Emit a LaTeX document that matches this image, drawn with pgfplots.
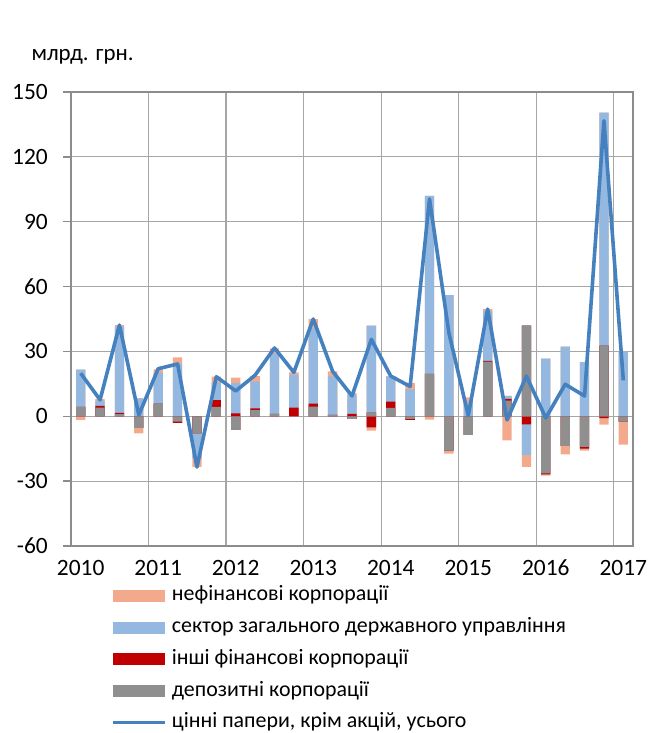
\documentclass[border=0pt]{standalone}
\usepackage{pgfplots}
\pgfplotsset{compat=1.18}
\usepackage{pgfplotstable}
\usepackage{fontspec}
\setmainfont{Carlito}
\definecolor{cNF}{HTML}{F3AA8C}
\definecolor{cGOV}{HTML}{95B8E0}
\definecolor{cOTH}{HTML}{C00000}
\definecolor{cDEP}{HTML}{8F8F8F}
\definecolor{cLINE}{HTML}{4681BF}
\definecolor{cGRID}{HTML}{A6A6A6}
\definecolor{cAXIS}{HTML}{8C8C8C}

\pgfplotstableread{
x dep oth gov nf tot
0 4.3 0 17.3 -1.7 19.9
1 4.0 0.8 2.5 0.6 7.6
2 1.0 0.6 39.8 0.8 42.2
3 -5.4 0 8.3 -2.5 0.6
4 5.9 0 14.3 1.5 22.0
5 -2.5 -0.5 24.1 3.2 24.2
6 -7.9 0 -11.6 -3.9 -23.5
7 4.3 3.2 8.2 2.6 18.3
8 -6.3 1.4 13.9 2.6 11.7
9 2.9 0.8 12.3 2.6 19.0
10 1.1 0 28.0 2.3 31.6
11 0 4.0 15.1 1.2 20.3
12 4.5 1.4 34.8 4.3 45.0
13 0.6 0 17.9 2.3 20.8
14 -1.2 1.1 8.8 0.8 9.4
15 1.7 -5.1 40.2 -1.5 35.6
16 3.9 2.9 11.7 0 18.6
17 -1.2 -0.5 12.5 2.9 13.8
18 19.6 0 82.3 -1.5 100.5
19 -15.9 0 56.1 -1.4 38.6
20 -8.6 0 6.5 2.3 0.3
21 25.3 0.3 23.1 0.9 49.6
22 7.2 0.8 1.4 -11.1 -1.7
23 41.9 -3.7 -14.3 -5.4 18.6
24 -26.4 -0.5 26.7 -0.6 -0.8
25 -13.7 0 32.2 -3.9 14.8
26 -14.2 -0.8 25.1 -0.9 9.4
27 32.7 -0.8 107.8 -3.1 136.7
28 -2.5 0 29.9 -10.6 16.6
}\data

\begin{document}
\begin{tikzpicture}[font=\fontsize{22}{26}\selectfont]
\useasboundingbox (-71bp,-187bp) rectangle (591bp,546bp);
\begin{axis}[at={(0,0)}, anchor=south west, scale only axis,
  width=562bp, height=454bp,
  xmin=-0.5, xmax=28.5, ymin=-60, ymax=150,
  xtick={0,4,...,28}, xticklabels={2010,2011,2012,2013,2014,2015,2016,2017},
  minor xtick={3.5,7.5,...,27.5},
  ytick={-60,-30,...,150},
  ymajorgrids, xminorgrids,
  tick align=outside, major tick length=8bp, minor tick length=0pt,
  xtick style={draw=none},
  ytick style={cAXIS, line width=1.4bp},
  ytick pos=left, xtick pos=bottom,
  grid style={cGRID, line width=1.1bp},
  minor grid style={cGRID, line width=1.1bp},
  axis line style={cAXIS, line width=1.6bp},
  /pgf/number format/assume math mode=true,
  ticklabel style={font=\fontsize{23.5}{27}\selectfont},
  xticklabel style={anchor=north, text height=16bp, text depth=0pt, inner sep=0pt, yshift=-5bp},
  yticklabel style={anchor=east, inner sep=0pt, xshift=-15bp},
  legend cell align=left,
  legend style={at={(0.072,-0.087)}, anchor=north west, draw=none, fill=none,
    inner sep=0pt, row sep=11.8bp,
    nodes={inner sep=0pt, text height=15bp, text depth=5bp},
    /tikz/every even column/.append style={column sep=10bp}},
]
% non-financial
\addplot[ybar, bar width=0.48, bar shift=0pt, fill=cNF, draw=none,
  legend image code/.code={\fill[cNF] (0bp,-6bp) rectangle (52bp,6bp); \path (57bp,0bp);}]
  table[x=x, y expr={max(\thisrow{dep},0)+max(\thisrow{oth},0)+max(\thisrow{gov},0)+max(\thisrow{nf},0)}] {\data};
\addlegendentry{нефінансові корпорації}
\addplot[ybar, bar width=0.48, bar shift=0pt, fill=cNF, draw=none, forget plot]
  table[x=x, y expr={min(\thisrow{dep},0)+min(\thisrow{oth},0)+min(\thisrow{gov},0)+min(\thisrow{nf},0)}] {\data};
% government
\addplot[ybar, bar width=0.48, bar shift=0pt, fill=cGOV, draw=none,
  legend image code/.code={\fill[cGOV] (0bp,-6bp) rectangle (52bp,6bp); \path (57bp,0bp);}]
  table[x=x, y expr={max(\thisrow{dep},0)+max(\thisrow{oth},0)+max(\thisrow{gov},0)}] {\data};
\addlegendentry{сектор загального державного управління}
\addplot[ybar, bar width=0.48, bar shift=0pt, fill=cGOV, draw=none, forget plot]
  table[x=x, y expr={min(\thisrow{dep},0)+min(\thisrow{oth},0)+min(\thisrow{gov},0)}] {\data};
% other financial
\addplot[ybar, bar width=0.48, bar shift=0pt, fill=cOTH, draw=none,
  legend image code/.code={\fill[cOTH] (0bp,-6bp) rectangle (52bp,6bp); \path (57bp,0bp);}]
  table[x=x, y expr={max(\thisrow{dep},0)+max(\thisrow{oth},0)}] {\data};
\addlegendentry{інші фінансові корпорації}
\addplot[ybar, bar width=0.48, bar shift=0pt, fill=cOTH, draw=none, forget plot]
  table[x=x, y expr={min(\thisrow{dep},0)+min(\thisrow{oth},0)}] {\data};
% deposit corporations
\addplot[ybar, bar width=0.48, bar shift=0pt, fill=cDEP, draw=none,
  legend image code/.code={\fill[cDEP] (0bp,-6bp) rectangle (52bp,6bp); \path (57bp,0bp);}]
  table[x=x, y expr={max(\thisrow{dep},0)}] {\data};
\addlegendentry{депозитні корпорації}
\addplot[ybar, bar width=0.48, bar shift=0pt, fill=cDEP, draw=none, forget plot]
  table[x=x, y expr={min(\thisrow{dep},0)}] {\data};
% total
\addplot[cLINE, line width=3.6bp, mark=none, line join=round,
  legend image code/.code={\draw[cLINE, line width=3bp] (0bp,0bp) -- (52bp,0bp); \path (57bp,0bp);}]
  table[x=x, y=tot] {\data};
\addlegendentry{цінні папери, крім акцій, усього}
\end{axis}
\node[anchor=base west] at (-43bp,485bp) {\fontsize{23}{27}\selectfont млрд. грн.};
\end{tikzpicture}
\end{document}
